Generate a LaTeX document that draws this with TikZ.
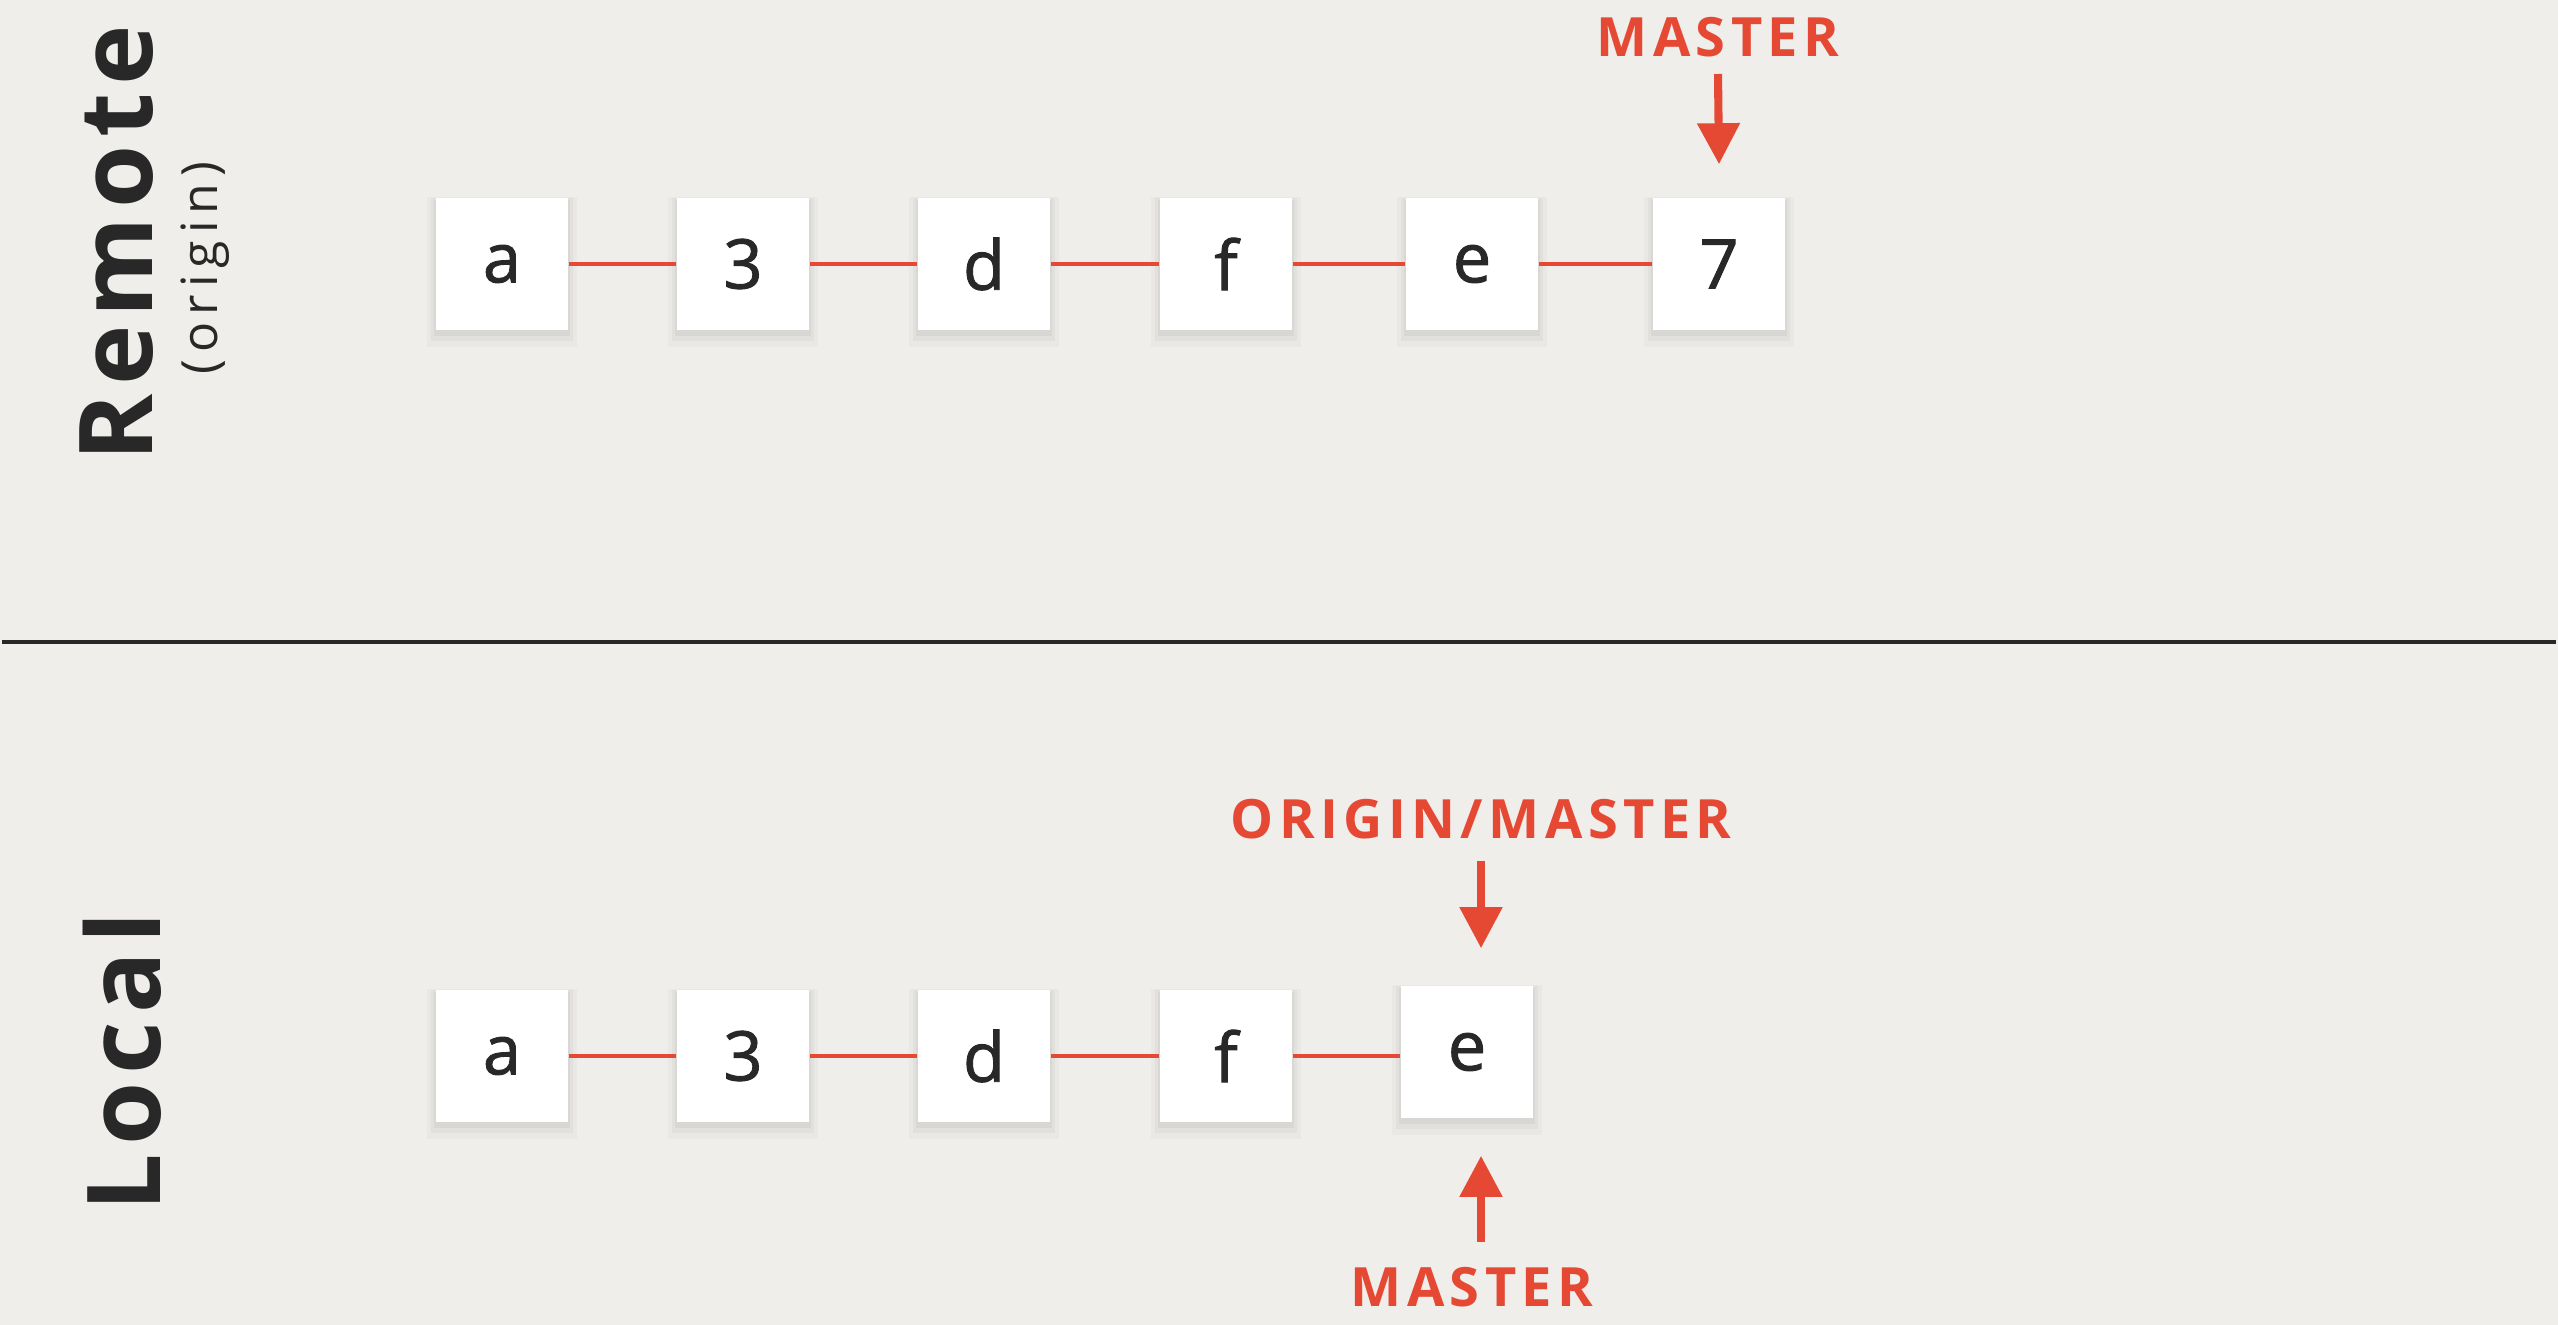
\documentclass[tikz,border=0pt]{standalone}
\usepackage{fontspec}
\setmainfont{Open Sans}
\newfontfamily\labelfont[LetterSpace=10]{Open Sans}
\newfontfamily\sidefont[LetterSpace=8]{Open Sans}
\newfontfamily\subfont[LetterSpace=14]{Open Sans}
\newfontfamily\commitfont[FakeBold=1.3]{Open Sans}
\usepackage{xcolor}
\usetikzlibrary{arrows.meta, shadows}

\definecolor{bgpaper}{RGB}{239,238,234}
\definecolor{gitred}{RGB}{229,73,52}
\definecolor{inkdark}{RGB}{40,40,40}

\tikzset{
    commit/.style={rectangle, fill=white, minimum size=1.32cm, inner sep=0pt,
        text=inkdark, font=\commitfont\fontsize{19.5}{22}\selectfont,
        general shadow={shadow yshift=-2pt, shadow scale=1.14, opacity=0.025, fill=black},
        general shadow={shadow yshift=-1.5pt, shadow scale=1.08, opacity=0.03, fill=black},
        general shadow={shadow yshift=-1pt, shadow scale=1.03, opacity=0.04, fill=black}},
    link/.style={draw=gitred, line width=1.4pt},
    pointer/.style={draw=gitred, line width=2.3pt, -{Triangle[length=0.41cm, width=0.41cm]}},
    branch/.style={text=gitred, inner sep=0pt, anchor=base,
        font=\labelfont\bfseries\fontsize{15.4}{18}\selectfont},
    side/.style={rotate=90, anchor=base, inner sep=0pt, text=inkdark}
}

\begin{document}
\begin{tikzpicture}[x=0.01cm, y=-0.01cm]

    % Background
    \fill[bgpaper] (0,0) rectangle (2558,1325);
    \useasboundingbox (0,0) rectangle (2558,1325);

    % Side titles
    \node[side, font=\sidefont\bfseries\fontsize{29}{32}\selectfont] (remote) at (152,243) {Remote};
    \node[side, font=\subfont\fontsize{14.2}{16}\selectfont] (origin) at (217,268) {(origin)};
    \node[side, font=\sidefont\bfseries\fontsize{29}{32}\selectfont] (local) at (160,1062) {Local};

    % Divider
    \coordinate (divl) at (2,642);
    \coordinate (divr) at (2556,642);
    \draw[inkdark, line width=1pt] (divl) -- (divr);

    % Remote commits
    \node[commit] (ra) at (502,264) {a};
    \node[commit] (r3) at (743,264) {3};
    \node[commit] (rd) at (984,264) {d};
    \node[commit] (rf) at (1226,264) {f};
    \node[commit] (re) at (1472,264) {e};
    \node[commit] (r7) at (1719,264) {7};

    \draw[link] (ra) -- (r3);
    \draw[link] (r3) -- (rd);
    \draw[link] (rd) -- (rf);
    \draw[link] (rf) -- (re);
    \draw[link] (re) -- (r7);

    % Remote master
    \node[branch] (rmaster) at (1718,57) {MASTER};
    \draw[pointer] ([yshift=-0.17cm]rmaster.base) -- ([yshift=0.33cm]r7.north);

    % Local commits
    \node[commit] (la) at (502,1056) {a};
    \node[commit] (l3) at (743,1056) {3};
    \node[commit] (ld) at (984,1056) {d};
    \node[commit] (lf) at (1226,1056) {f};
    \node[commit] (le) at (1467,1052) {e};

    \draw[link] (la) -- (l3);
    \draw[link] (l3) -- (ld);
    \draw[link] (ld) -- (lf);
    \draw[link] (lf) -- (lf -| le.west);

    % origin/master and master pointers
    \node[branch] (omaster) at (1481,838) {ORIGIN/MASTER};
    \draw[pointer] ([yshift=-0.23cm]omaster.base) -- ([yshift=0.37cm]omaster.base |- le.north);

    \node[branch] (lmaster) at (1472,1306) {MASTER};
    \draw[pointer] ([yshift=0.64cm]lmaster.base -| omaster.base) -- ([yshift=-0.37cm]omaster.base |- le.south);

\end{tikzpicture}
\end{document}
